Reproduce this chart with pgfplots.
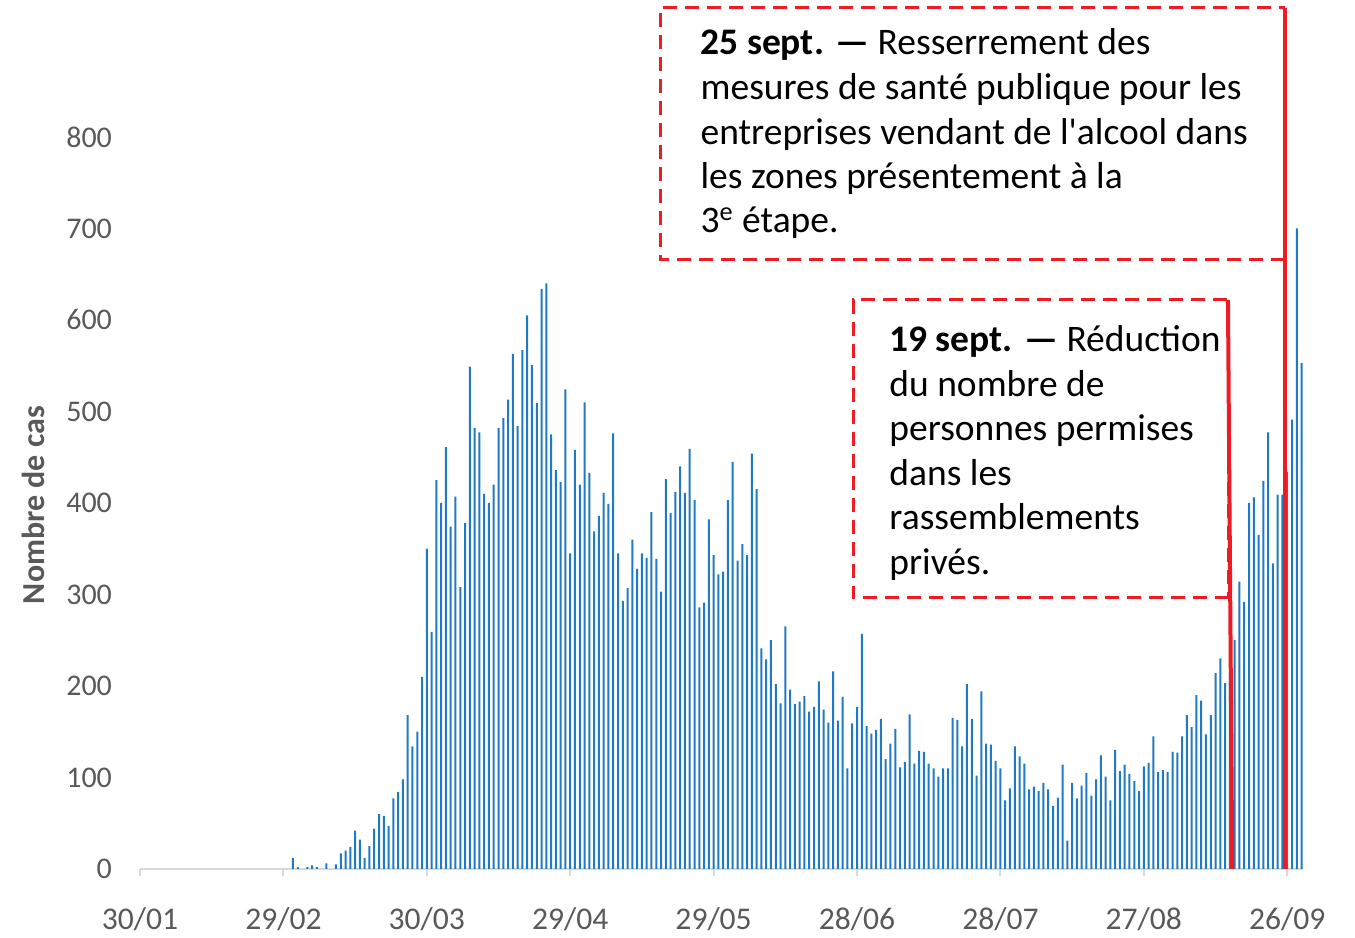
\documentclass[border=0pt]{standalone}
\usepackage{fontspec}
\setmainfont{Carlito}[Ligatures=TeXOff]
\usepackage{pgfplots}
\pgfplotsset{compat=1.18}
\usepackage{pgfplotstable}
\definecolor{barblue}{RGB}{30,122,196}
\definecolor{annred}{RGB}{237,28,36}
\definecolor{txtgray}{RGB}{89,89,89}
\definecolor{axgray}{RGB}{217,217,217}

\pgfplotstableread{
day cases
32 12
33 2
35 2
36 4
37 2
39 6
41 5
42 17
43 20
44 24
45 42
46 32
47 12
48 25
49 44
50 60
51 58
52 47
53 77
54 84
55 98
56 168
57 134
58 150
59 210
60 350
61 259
62 425
63 400
64 461
65 374
66 407
67 308
68 378
69 549
70 482
71 477
72 410
73 400
74 420
75 482
76 493
77 513
78 563
79 484
80 567
81 605
82 551
83 509
84 634
85 640
86 475
87 436
88 423
89 524
90 345
91 458
92 420
93 510
94 433
95 369
96 386
97 411
98 399
99 476
100 345
101 293
102 307
103 360
104 328
105 345
106 340
107 390
108 339
109 303
110 426
111 389
112 412
113 440
114 411
115 459
116 403
117 286
118 291
119 382
120 343
121 322
122 325
123 403
124 445
125 337
126 355
127 343
128 454
129 415
130 241
131 229
132 250
133 202
134 181
135 265
136 196
137 180
138 183
139 189
140 172
141 177
142 205
143 174
144 160
145 216
146 162
147 188
148 110
149 159
150 177
151 257
152 156
153 148
154 152
155 164
156 120
157 137
158 153
159 111
160 117
161 169
162 115
163 129
164 128
165 115
166 110
167 101
168 110
169 110
170 165
171 163
172 134
173 202
174 164
175 102
176 194
177 137
178 136
179 118
180 110
181 75
182 88
183 134
184 123
185 115
186 87
187 90
188 85
189 94
190 87
191 69
192 78
193 114
194 31
195 94
196 77
197 91
198 105
199 80
200 98
201 124
202 101
203 75
204 130
205 107
206 114
207 104
208 96
209 85
210 112
211 116
212 145
213 106
214 108
215 106
216 128
217 127
218 145
219 168
220 155
221 190
222 184
223 147
224 168
225 214
226 230
227 203
228 215
229 250
230 314
231 292
232 400
233 406
234 365
235 424
236 477
237 334
238 409
239 409
240 434
241 491
242 700
243 553
}\cases

\begin{document}
\begin{tikzpicture}
\begin{axis}[
  scale only axis,
  width=581.5pt, height=366pt,
  xmin=0, xmax=243.3, ymin=0, ymax=800,
  clip=false,
  axis x line*=bottom,
  axis y line*=left,
  y axis line style={draw=none},
  x axis line style={draw=axgray, line width=1pt, -},
  ytick={0,100,...,800},
  xtick={0,30,...,240},
  xticklabels={30/01,29/02,30/03,29/04,29/05,28/06,28/07,27/08,26/09},
  tick align=outside,
  major tick length=3.5pt,
  ytick style={draw=none},
  xtick style={draw=axgray, line width=1pt},
  tick label style={text=txtgray},
  yticklabel style={font=\fontsize{15}{18}\selectfont, xshift=-7pt},
  xticklabel style={font=\fontsize{15.8}{19}\selectfont, yshift=-12.5pt},
  /pgf/number format/assume math mode=true,
]
\addplot[ybar, bar width=1pt, bar shift=0pt, fill=barblue, draw=none] table[x=day,y=cases]{\cases};

% annotation boxes
\draw[annred, line width=1.5pt, dash pattern=on 7pt off 4pt]
  (axis cs:239.5,665.6) -- (axis cs:108.8,665.6) -- (axis cs:108.8,941) -- (axis cs:239.5,941);
\draw[annred, line width=2pt] (axis cs:239.5,941) -- (axis cs:239.5,0);
\draw[annred, line width=1.5pt, dash pattern=on 7pt off 4pt]
  (axis cs:227.8,296.2) -- (axis cs:149.2,296.2) -- (axis cs:149.2,621.9) -- (axis cs:227.8,621.9) -- cycle;
\draw[annred, line width=2pt] (axis cs:227.6,621.9) -- (axis cs:228.5,0);

\begin{scope}[every node/.style={anchor=base west, inner sep=0pt, font=\fontsize{18.75}{22}\selectfont}]
\node at (axis cs:117.2,889.6) {\textbf{25 sept.} \textbf{—} Resserrement des};
\node at (axis cs:117.2,840.4) {mesures de santé publique pour les};
\node at (axis cs:117.2,792.3) {entreprises vendant de l'alcool dans};
\node at (axis cs:117.2,743.2) {les zones présentement à la};
\node at (axis cs:117.2,695.1) {3\textsuperscript{e} étape.};
\node at (axis cs:156.7,565.0) {\textbf{19 sept.} \textbf{—} Réduction};
\node at (axis cs:156.7,515.8) {du nombre de};
\node at (axis cs:156.7,467.8) {personnes permises};
\node at (axis cs:156.7,418.6) {dans les};
\node at (axis cs:156.7,370.5) {rassemblements};
\node at (axis cs:156.7,321.3) {privés.};
\end{scope}

\node[rotate=90, text=txtgray, font=\bfseries\fontsize{16}{19}\selectfont] at (axis cs:-22.4,397.8) {Nombre de cas};

\path (axis cs:-29.29,-71.04) rectangle (axis cs:254.18,949.7);
\end{axis}
\end{tikzpicture}
\end{document}
